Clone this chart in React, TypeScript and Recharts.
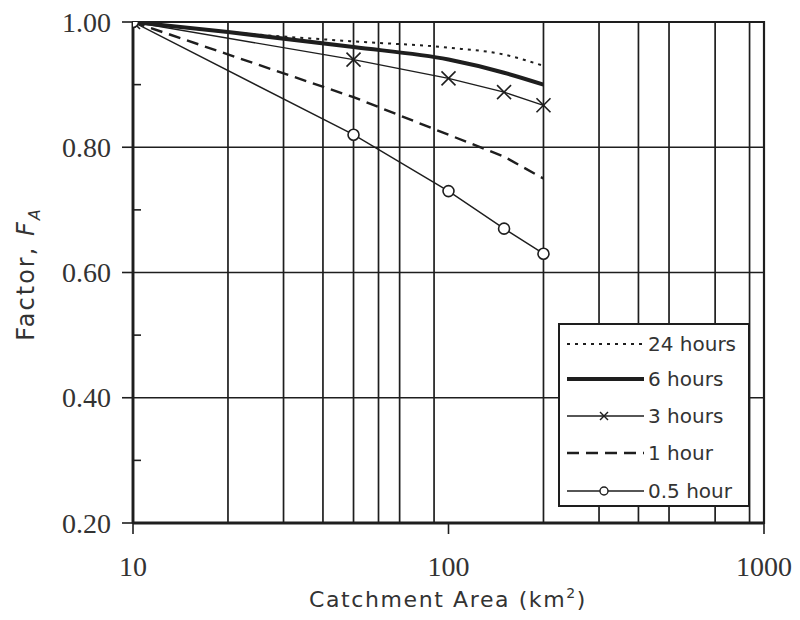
import React from 'react';
import {
  LineChart,
  Line,
  XAxis,
  YAxis,
  CartesianGrid,
  ReferenceArea,
  Legend,
} from 'recharts';

// ---- Data ----
const areas24h = [10, 20, 50, 100, 150, 200];
const factors24h = [1.0, 0.984, 0.969, 0.959, 0.948, 0.93];

const areas6h = [10, 20, 50, 100, 150, 200];
const factors6h = [1.0, 0.984, 0.96, 0.94, 0.919, 0.9];

const areas3h = [10, 50, 100, 150, 200];
const factors3h = [1.0, 0.94, 0.91, 0.888, 0.867];

const areas1h = [10, 50, 100, 150, 200];
const factors1h = [1.0, 0.88, 0.82, 0.785, 0.75];

const areas05h = [10, 50, 100, 150, 200];
const factors05h = [1.0, 0.82, 0.73, 0.67, 0.63];

const seriesNames = ['24 hours', '6 hours', '3 hours', '1 hour', '0.5 hour'];

const xTicks = [10, 100, 1000];
const xGridValues = [20, 30, 40, 50, 60, 70, 80, 90, 200, 300, 400, 500, 600, 700, 800, 900];
const yTicks = [0.2, 0.3, 0.4, 0.5, 0.6, 0.7, 0.8, 0.9, 1.0];
const yMajorTicks = [0.2, 0.4, 0.6, 0.8, 1.0];
const yGridValues = [0.4, 0.6, 0.8];

const toPoints = (xs: number[], ys: number[]) => xs.map((x, i) => ({ x, y: ys[i] }));

const data24h = toPoints(areas24h, factors24h);
const data6h = toPoints(areas6h, factors6h);
const data3h = toPoints(areas3h, factors3h);
const data1h = toPoints(areas1h, factors1h);
const data05h = toPoints(areas05h, factors05h);

const INK = '#1e1e1e';

type Style = {
  width: number;
  dash?: string;
  marker?: 'x' | 'o';
  curve: 'monotone' | 'linear';
};

const styles: Style[] = [
  { width: 2, dash: '3 5', curve: 'monotone' },
  { width: 4, curve: 'monotone' },
  { width: 1.4, marker: 'x', curve: 'linear' },
  { width: 2.4, dash: '12 7', curve: 'linear' },
  { width: 1.4, marker: 'o', curve: 'linear' },
];

const seriesData = [data24h, data6h, data3h, data1h, data05h];

const CrossDot = (props: any) => {
  const { cx, cy } = props;
  if (cx == null || cy == null) return null;
  const s = 7;
  return (
    <g>
      <line x1={cx - s} y1={cy - s} x2={cx + s} y2={cy + s} stroke={INK} strokeWidth={1.6} />
      <line x1={cx - s} y1={cy + s} x2={cx + s} y2={cy - s} stroke={INK} strokeWidth={1.6} />
    </g>
  );
};

const CircleDot = (props: any) => {
  const { cx, cy } = props;
  if (cx == null || cy == null) return null;
  return <circle cx={cx} cy={cy} r={5.5} fill="#fff" stroke={INK} strokeWidth={1.6} />;
};

const YTick = (props: any) => {
  const { x, y, payload } = props;
  const v = payload.value as number;
  const major = yMajorTicks.some((m) => Math.abs(m - v) < 1e-6);
  if (!major) {
    return <line x1={x} y1={y} x2={x + 8} y2={y} stroke={INK} strokeWidth={1.6} />;
  }
  return (
    <g>
      <line x1={x - 11} y1={y} x2={x} y2={y} stroke={INK} strokeWidth={1.6} />
      <text
        x={x - 22}
        y={y}
        dy="0.34em"
        textAnchor="end"
        fontFamily="'Liberation Serif', serif"
        fontSize={28}
        fill="#333"
      >
        {v.toFixed(2)}
      </text>
    </g>
  );
};

const XTick = (props: any) => {
  const { x, y, payload } = props;
  return (
    <g>
      <line x1={x} y1={y} x2={x} y2={y + 11} stroke={INK} strokeWidth={1.6} />
      <text
        x={x}
        y={y + 53}
        textAnchor="middle"
        fontFamily="'Liberation Serif', serif"
        fontSize={28}
        fill="#333"
      >
        {payload.value}
      </text>
    </g>
  );
};

const LegendBox = () => {
  const rowY = [21, 56, 93, 130, 168];
  return (
    <div
      style={{
        width: 192,
        height: 184,
        boxSizing: 'border-box',
        border: `2px solid ${INK}`,
        background: '#fff',
      }}
    >
      <svg width={188} height={180} style={{ display: 'block' }}>
        {seriesNames.map((name, i) => {
          const st = styles[i];
          const yy = rowY[i] - 2;
          return (
            <g key={name}>
              <line
                x1={7}
                y1={yy}
                x2={84}
                y2={yy}
                stroke={INK}
                strokeWidth={st.width}
                strokeDasharray={st.dash}
              />
              {st.marker === 'x' && (
                <g>
                  <line x1={40} y1={yy - 4} x2={48} y2={yy + 4} stroke={INK} strokeWidth={1.4} />
                  <line x1={40} y1={yy + 4} x2={48} y2={yy - 4} stroke={INK} strokeWidth={1.4} />
                </g>
              )}
              {st.marker === 'o' && (
                <circle cx={44} cy={yy} r={4} fill="#fff" stroke={INK} strokeWidth={1.4} />
              )}
              <text
                x={88}
                y={yy}
                dy="0.36em"
                fontFamily="'DejaVu Sans', Verdana, sans-serif"
                fontSize={20}
                fill="#333"
              >
                {name}
              </text>
            </g>
          );
        })}
      </svg>
    </div>
  );
};

export default function App() {
  return (
    <div style={{ position: 'absolute', left: 0, top: 0, width: 800, height: 620, background: '#fff' }}>
      <LineChart
        width={800}
        height={620}
        margin={{ top: 22, right: 36, left: 0, bottom: 0 }}
      >
        <CartesianGrid
          stroke={INK}
          strokeWidth={1.7}
          horizontalValues={yGridValues}
          verticalValues={xGridValues}
        />
        <XAxis
          dataKey="x"
          type="number"
          scale="log"
          domain={[10, 1000]}
          ticks={xTicks}
          allowDataOverflow
          height={97}
          tickLine={false}
          tickSize={0}
          tickMargin={0}
          axisLine={{ stroke: INK, strokeWidth: 2.8 }}
          tick={<XTick />}
          label={{
            content: () => (
              <text
                x={448}
                y={607}
                textAnchor="middle"
                fontFamily="'DejaVu Sans', Verdana, sans-serif"
                fontSize={22}
                letterSpacing={1.6}
                fill="#333"
              >
                Catchment Area (km
                <tspan fontSize={14} dy={-9}>2</tspan>
                <tspan dy={9}>)</tspan>
              </text>
            ),
          }}
        />
        <YAxis
          type="number"
          domain={[0.2, 1.0]}
          ticks={yTicks}
          allowDataOverflow
          width={133}
          tickLine={false}
          tickSize={0}
          tickMargin={0}
          axisLine={{ stroke: INK, strokeWidth: 2.8 }}
          tick={<YTick />}
          label={{
            content: () => (
              <text
                x={34}
                y={274}
                transform="rotate(-90 34 274)"
                textAnchor="middle"
                fontFamily="'DejaVu Sans', Verdana, sans-serif"
                fontSize={24}
                letterSpacing={2}
                fill="#333"
              >
                Factor,{' '}
                <tspan fontStyle="italic">F</tspan>
                <tspan fontStyle="italic" fontSize={16} dy={6}>A</tspan>
              </text>
            ),
          }}
        />
        <ReferenceArea
          x1={10}
          x2={1000}
          y1={0.2}
          y2={1.0}
          fill="none"
          stroke={INK}
          strokeWidth={2.2}
          ifOverflow="visible"
        />
        {seriesNames.map((name, i) => {
          const st = styles[i];
          const dot =
            st.marker === 'x' ? <CrossDot /> : st.marker === 'o' ? <CircleDot /> : false;
          return (
            <Line
              key={name}
              name={name}
              data={seriesData[i]}
              dataKey="y"
              type={st.curve}
              stroke={INK}
              strokeWidth={st.width}
              strokeDasharray={st.dash}
              dot={dot}
              activeDot={false}
              isAnimationActive={false}
            />
          );
        })}
        <Legend
          layout="horizontal"
          align="center"
          verticalAlign="middle"
          content={() => <LegendBox />}
          wrapperStyle={{ left: 558, top: 323, width: 192, height: 184, position: 'absolute' }}
        />
      </LineChart>
    </div>
  );
}
